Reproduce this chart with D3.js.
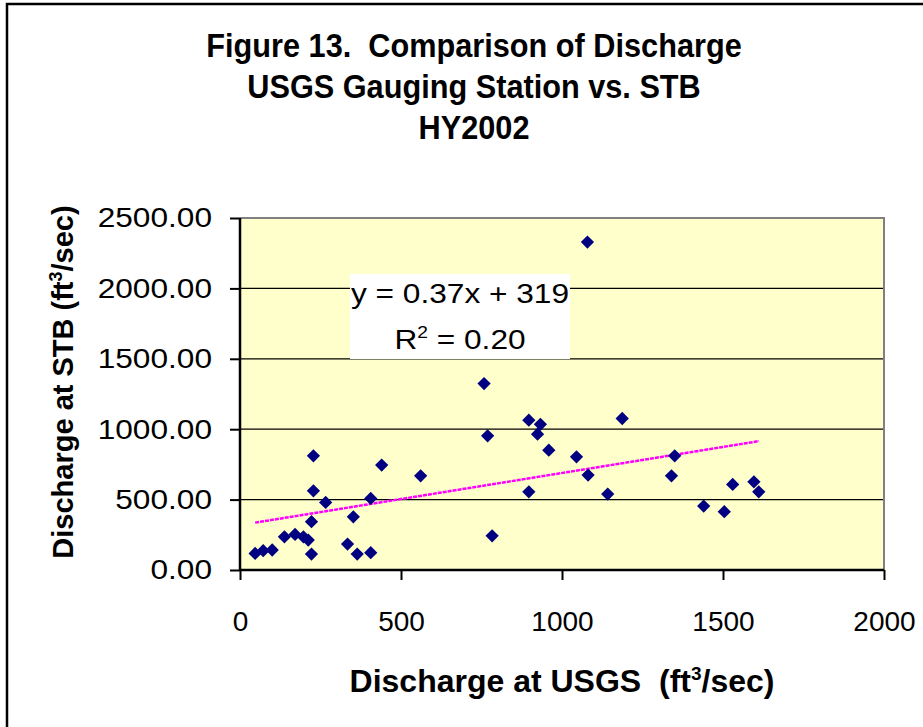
<!DOCTYPE html>
<html>
<head>
<meta charset="utf-8">
<script src="https://cdn.jsdelivr.net/npm/d3@7"></script>
<style>
  body { margin: 0; background: #fff; }
  svg { display: block; }
  text { font-family: "Liberation Sans", Arial, sans-serif; fill: #000; }
</style>
</head>
<body>
<svg></svg>
<script>
var width = 923, height = 727;

// data
var usgs = [47, 72, 100, 138, 171, 197, 212, 222, 222, 228, 228, 266, 334, 352, 364, 406, 406, 440,
            561, 758, 769, 783, 897, 897, 924, 933, 959, 1045, 1079, 1081, 1142, 1187,
            1340, 1350, 1440, 1504, 1530, 1596, 1611];
var stb  = [118, 137, 142, 236, 253, 236, 213, 343, 113, 811, 562, 480, 184, 378, 113, 123, 508, 745,
            669, 1324, 953, 243, 1064, 555, 965, 1035, 851, 804, 2329, 674, 539, 1076,
            669, 811, 454, 414, 608, 626, 555];
var xTicks = [0, 500, 1000, 1500, 2000];
var yTicks = [0, 500, 1000, 1500, 2000, 2500];
var titleLines = ["Figure 13.  Comparison of Discharge", "USGS Gauging Station vs. STB", "HY2002"];
var trendSlope = 0.37, trendIntercept = 319, trendRange = [47, 1612];

var svg = d3.select("svg").attr("width", width).attr("height", height);

// outer chart frame (cut off at right and bottom)
svg.append("rect")
  .attr("x", 7).attr("y", 4)
  .attr("width", 940).attr("height", 760)
  .attr("fill", "#fff").attr("stroke", "#000").attr("stroke-width", 2.5);

var plot = {left: 240, right: 884, top: 218, bottom: 570};

var x = d3.scaleLinear().domain([0, 2000]).range([plot.left, plot.right]);
var y = d3.scaleLinear().domain([0, 2500]).range([plot.bottom, plot.top]);

// plot background
svg.append("rect")
  .attr("x", plot.left).attr("y", plot.top)
  .attr("width", plot.right - plot.left).attr("height", plot.bottom - plot.top)
  .attr("fill", "#FFFFCC");

// gridlines
svg.selectAll(".grid")
  .data(yTicks.filter(function(d){ return d > 0 && d < 2500; }))
  .enter().append("line")
  .attr("x1", plot.left).attr("x2", plot.right)
  .attr("y1", function(d){ return y(d); }).attr("y2", function(d){ return y(d); })
  .attr("stroke", "#000").attr("stroke-width", 1.2);

// gray border top/right
svg.append("path")
  .attr("d", "M" + plot.left + "," + plot.top + "H" + plot.right + "V" + plot.bottom)
  .attr("fill", "none").attr("stroke", "#808080").attr("stroke-width", 2);

// trendline box label
var box = svg.append("g");
box.append("rect")
  .attr("x", 350).attr("y", 274).attr("width", 220).attr("height", 85)
  .attr("fill", "#fff");

function stretched(g, tx, ty, sx, str, size, weight, anchor) {
  return g.append("text")
    .attr("transform", "translate(" + tx + "," + ty + ") scale(" + sx + ",1)")
    .attr("text-anchor", anchor || "middle")
    .attr("xml:space", "preserve")
    .style("font-size", size + "px")
    .style("font-weight", weight || "normal")
    .text(str);
}

stretched(box, 460, 303, 1.13, "y = 0.37x + 319", 28);
var r2 = stretched(box, 460, 349, 1.13, "", 28);
r2.append("tspan").text("R");
r2.append("tspan").attr("dy", -11).style("font-size", "17px").text("2");
r2.append("tspan").attr("dy", 11).text(" = 0.20");

// trendline
svg.append("line")
  .attr("x1", x(trendRange[0])).attr("y1", y(trendSlope * trendRange[0] + trendIntercept))
  .attr("x2", x(trendRange[1])).attr("y2", y(trendSlope * trendRange[1] + trendIntercept))
  .attr("stroke", "#FF00FF").attr("stroke-width", 2.5).attr("stroke-dasharray", "4,1");

// points
var diamond = d3.symbol().type(d3.symbolSquare).size(88);
svg.selectAll(".pt")
  .data(usgs.map(function(d, i){ return [d, stb[i]]; }))
  .enter().append("path")
  .attr("d", diamond)
  .attr("transform", function(d){ return "translate(" + x(d[0]) + "," + y(d[1]) + ") rotate(45)"; })
  .attr("fill", "#000080");

// axes
var yAxis = svg.append("g")
  .attr("transform", "translate(" + plot.left + ",0)")
  .call(d3.axisLeft(y).tickValues(yTicks).tickSize(10).tickPadding(18).tickFormat(d3.format(".2f")));
var xAxis = svg.append("g")
  .attr("transform", "translate(0," + plot.bottom + ")")
  .call(d3.axisBottom(x).tickValues(xTicks).tickSize(10).tickPadding(31).tickFormat(d3.format("d")));

[yAxis, xAxis].forEach(function(a){
  a.select(".domain").attr("stroke", "#000").attr("stroke-width", 2.5);
  a.selectAll(".tick line").attr("stroke", "#000").attr("stroke-width", 2);
  a.selectAll(".tick text")
    .attr("fill", "#000")
    .style("font-family", "'Liberation Sans', Arial, sans-serif")
    .style("font-size", "28px");
});
yAxis.selectAll(".tick text")
  .attr("x", -28 / 1.13)
  .attr("transform", "scale(1.13,1)");
yAxis.select(".domain").attr("d", "M0," + plot.top + "V" + plot.bottom);
xAxis.select(".domain").attr("d", "M" + plot.left + ",0H" + plot.right);

// title
titleLines.forEach(function(t, i){
  stretched(svg, 474, 57 + i * 41, 0.93, t, 33, "bold");
});

// axis titles
var xt = svg.append("text")
  .attr("x", 562).attr("y", 692)
  .attr("text-anchor", "middle")
  .attr("xml:space", "preserve")
  .style("font-size", "32px").style("font-weight", "bold");
xt.append("tspan").text("Discharge at USGS  (ft");
xt.append("tspan").attr("dy", -12).style("font-size", "19px").text("3");
xt.append("tspan").attr("dy", 12).text("/sec)");

var yt = svg.append("text")
  .attr("transform", "translate(73,382) rotate(-90)")
  .attr("text-anchor", "middle")
  .style("font-size", "29px").style("font-weight", "bold");
yt.append("tspan").text("Discharge at STB (ft");
yt.append("tspan").attr("dy", -11).style("font-size", "18px").text("3");
yt.append("tspan").attr("dy", 11).text("/sec)");
</script>
</body>
</html>
